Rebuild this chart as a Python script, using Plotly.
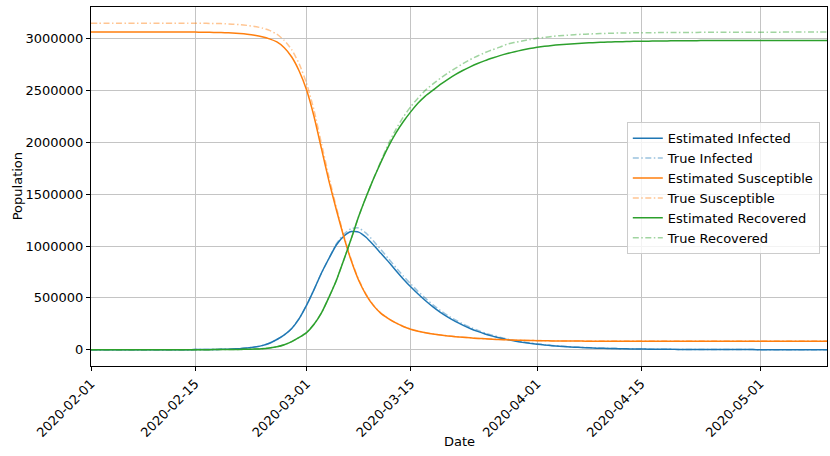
import pandas as pd
import plotly.graph_objects as go

# Dates: one point per day, 2020-02-01 .. 2020-05-10
start_date = "2020-02-01"
n_days = 100
dates = pd.date_range(start_date, periods=n_days, freq="D")

# Values in thousands of people
est_susceptible = [
    3065, 3065, 3065, 3065, 3065, 3065, 3065, 3065, 3065, 3065,
    3065, 3065, 3065, 3065, 3065, 3064, 3063, 3062, 3060, 3056,
    3051, 3044, 3034, 3020, 3000, 2970, 2915, 2825, 2690, 2506,
    2250, 1940, 1630, 1350, 1090, 860, 670, 530, 425, 350,
    300, 258, 224, 197, 178, 163, 151, 141, 133, 126,
    120, 114, 109, 105, 101, 98, 95, 92, 90, 88,
    87, 86, 85, 84, 84, 83, 83, 82, 82, 82,
    82, 82, 82, 82, 82, 82, 82, 82, 82, 82,
    82, 82, 82, 82, 82, 81, 81, 81, 81, 81,
    81, 81, 81, 81, 81, 81, 81, 81, 81, 81,
]
true_susceptible = [
    3150, 3150, 3150, 3150, 3150, 3150, 3150, 3150, 3150, 3150,
    3150, 3150, 3150, 3150, 3150, 3150, 3149, 3148, 3146, 3142,
    3137, 3130, 3120, 3105, 3082, 3045, 2985, 2895, 2760, 2570,
    2310, 1990, 1670, 1375, 1105, 870, 678, 535, 428, 352,
    301, 259, 225, 198, 179, 164, 152, 142, 134, 127,
    121, 115, 110, 106, 102, 99, 96, 93, 91, 89,
    88, 87, 86, 85, 85, 84, 84, 84, 84, 84,
    84, 84, 84, 84, 84, 84, 84, 84, 84, 84,
    83, 83, 83, 83, 83, 83, 83, 83, 83, 83,
    83, 83, 83, 83, 83, 83, 83, 83, 83, 83,
]
est_infected = [
    0.01, 0.01, 0.01, 0.02, 0.02, 0.03, 0.04, 0.05, 0.06, 0.08,
    0.1, 0.16, 0.25, 0.4, 0.63, 1.0, 1.6, 2.5, 4, 6.3,
    10, 16, 25, 39, 62, 98, 142, 205, 300, 430,
    580, 740, 880, 1010, 1095, 1140, 1135, 1085, 1010, 930,
    850, 765, 683, 607, 537, 472, 413, 360, 314, 273,
    237, 205, 177, 152, 131, 113, 97, 83, 71, 61,
    53, 45, 39, 33, 28, 24, 21, 18, 15, 13,
    11, 9.5, 8.1, 7, 6, 5.1, 4.4, 3.7, 3.2, 2.7,
    2.3, 2, 1.7, 1.45, 1.25, 1.05, 0.9, 0.77, 0.66, 0.56,
    0.48, 0.41, 0.35, 0.3, 0.26, 0.22, 0.19, 0.16, 0.14, 0.12,
]
true_infected = [
    0.01, 0.01, 0.01, 0.02, 0.02, 0.03, 0.04, 0.05, 0.06, 0.08,
    0.1, 0.16, 0.25, 0.4, 0.63, 1.0, 1.6, 2.5, 4, 6.3,
    10, 16, 25, 39, 62, 98, 142, 205, 300, 430,
    580, 740, 880, 1020, 1115, 1170, 1175, 1125, 1048, 965,
    880, 795, 712, 635, 562, 495, 433, 378, 330, 287,
    249, 216, 187, 161, 139, 120, 103, 88, 76, 65,
    56, 48, 41, 35, 30, 26, 22, 19, 16, 14,
    12, 10, 8.7, 7.5, 6.4, 5.5, 4.7, 4, 3.4, 2.9,
    2.5, 2.1, 1.8, 1.55, 1.3, 1.1, 0.95, 0.8, 0.7, 0.6,
    0.5, 0.43, 0.37, 0.32, 0.27, 0.23, 0.2, 0.17, 0.15, 0.13,
]
est_recovered = [
    0, 0, 0, 0, 0, 0.01, 0.01, 0.02, 0.03, 0.04,
    0.05, 0.07, 0.1, 0.15, 0.22, 0.33, 0.5, 0.8, 1.2, 1.9,
    2.5, 4, 6.5, 10, 17, 28, 48, 78, 118, 165,
    245, 355, 505, 668, 865, 1070, 1285, 1474, 1650, 1810,
    1960, 2090, 2200, 2295, 2380, 2450, 2505, 2560, 2610, 2655,
    2695, 2730, 2762, 2790, 2815, 2838, 2858, 2876, 2892, 2906,
    2918, 2928, 2936, 2943, 2949, 2954, 2958, 2962, 2965, 2968,
    2970, 2972, 2974, 2976, 2977, 2978, 2979, 2980, 2981, 2981,
    2982, 2982, 2983, 2983, 2983, 2984, 2984, 2984, 2984, 2985,
    2985, 2985, 2985, 2985, 2985, 2985, 2985, 2985, 2985, 2985,
]
true_recovered = [
    0, 0, 0, 0, 0, 0.01, 0.01, 0.02, 0.03, 0.04,
    0.05, 0.07, 0.1, 0.15, 0.22, 0.33, 0.5, 0.8, 1.2, 1.9,
    2.5, 4, 6.5, 10, 17, 28, 48, 78, 118, 165,
    245, 355, 505, 668, 865, 1070, 1285, 1474, 1650, 1820,
    1985, 2125, 2245, 2345, 2430, 2505, 2565, 2620, 2670, 2715,
    2760, 2800, 2835, 2867, 2895, 2920, 2950, 2966, 2980, 2993,
    3005, 3015, 3023, 3030, 3035, 3040, 3044, 3047, 3050, 3052,
    3054, 3056, 3057, 3058, 3059, 3060, 3060, 3061, 3061, 3062,
    3062, 3062, 3063, 3063, 3063, 3063, 3064, 3064, 3064, 3064,
    3064, 3064, 3064, 3065, 3065, 3065, 3065, 3065, 3065, 3065,
]

y_ticks = [0, 500000, 1000000, 1500000, 2000000, 2500000, 3000000]
x_ticks = ["2020-02-01", "2020-02-15", "2020-03-01", "2020-03-15",
           "2020-04-01", "2020-04-15", "2020-05-01"]

BLUE, ORANGE, GREEN = (31, 119, 180), (255, 127, 14), (44, 160, 44)

def rgb(c, a=1.0):
    return f"rgba({c[0]},{c[1]},{c[2]},{a})"

series = [
    ("Estimated Infected", est_infected, BLUE, False),
    ("True Infected", true_infected, BLUE, True),
    ("Estimated Susceptible", est_susceptible, ORANGE, False),
    ("True Susceptible", true_susceptible, ORANGE, True),
    ("Estimated Recovered", est_recovered, GREEN, False),
    ("True Recovered", true_recovered, GREEN, True),
]

fig = go.Figure()
for name, vals, col, is_true in series:
    fig.add_trace(go.Scatter(
        x=dates, y=[v * 1000 for v in vals], mode="lines", name=name,
        line=dict(color=rgb(col, 0.45 if is_true else 1.0), width=1.5,
                  dash="6px,2.5px,1.5px,2.5px" if is_true else "solid",
                  shape="spline", smoothing=0.5),
    ))

FONT = "DejaVu Sans"
axis_common = dict(
    showline=True, linecolor="black", linewidth=1, mirror=True,
    ticks="outside", ticklen=4, tickcolor="black", tickwidth=1,
    showgrid=True, gridcolor="#c4c4c4", gridwidth=1, zeroline=False,
    automargin=False,
    tickfont=dict(family=FONT, size=13, color="black"),
)

fig.update_layout(
    width=830, height=456,
    margin=dict(l=91, r=3, t=7, b=90, autoexpand=False),
    paper_bgcolor="white", plot_bgcolor="white",
    font=dict(family=FONT, size=13, color="black"),
    showlegend=True,
    legend=dict(x=0.728, y=0.679, xanchor="left", yanchor="top",
                bgcolor="rgba(255,255,255,0.8)", bordercolor="#cccccc",
                borderwidth=1, font=dict(family=FONT, size=13, color="black"),
                itemwidth=30, tracegroupgap=0),
    xaxis=dict(
        type="date", range=[dates[0], dates[-1]],
        tickvals=x_ticks, ticktext=x_ticks, tickangle=-45,
        **axis_common,
    ),
    yaxis=dict(
        range=[-157500, 3307500], tickvals=y_ticks,
        ticktext=[str(v) for v in y_ticks],
        **axis_common,
    ),
    annotations=[
        dict(text="Date", xref="paper", yref="paper", x=0.5, y=-0.21,
             xanchor="center", yanchor="middle", showarrow=False,
             font=dict(family=FONT, size=13, color="black")),
        dict(text="Population", xref="paper", yref="paper", x=-0.0995, y=0.5,
             xanchor="center", yanchor="middle", showarrow=False, textangle=-90,
             font=dict(family=FONT, size=13, color="black")),
    ],
)

fig.write_html(
    "out.html",
    config={"displayModeBar": False},
    post_script="document.body.style.margin='0';document.body.style.overflow='hidden';",
)
